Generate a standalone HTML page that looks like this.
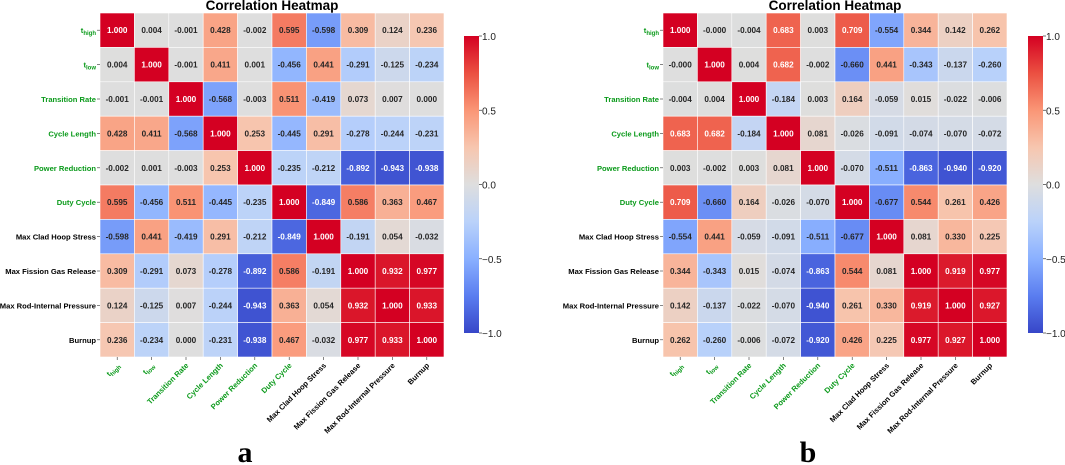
<!DOCTYPE html>
<html><head><meta charset="utf-8"><style>
body{margin:0;background:#fff;}
svg{display:block;font-family:"Liberation Sans",Arial,sans-serif;}
</style></head><body>
<svg id="chart" width="1065" height="465" viewBox="0 0 1065 465"></svg>
<script>
const labels = ["t_high","t_low","Transition Rate","Cycle Length","Power Reduction","Duty Cycle","Max Clad Hoop Stress","Max Fission Gas Release","Max Rod-Internal Pressure","Burnup"];
const greenCount = 6;
const valuesA = [
[1.000,0.004,-0.001,0.428,-0.002,0.595,-0.598,0.309,0.124,0.236],
[0.004,1.000,-0.001,0.411,0.001,-0.456,0.441,-0.291,-0.125,-0.234],
[-0.001,-0.001,1.000,-0.568,-0.003,0.511,-0.419,0.073,0.007,0.000],
[0.428,0.411,-0.568,1.000,0.253,-0.445,0.291,-0.278,-0.244,-0.231],
[-0.002,0.001,-0.003,0.253,1.000,-0.235,-0.212,-0.892,-0.943,-0.938],
[0.595,-0.456,0.511,-0.445,-0.235,1.000,-0.849,0.586,0.363,0.467],
[-0.598,0.441,-0.419,0.291,-0.212,-0.849,1.000,-0.191,0.054,-0.032],
[0.309,-0.291,0.073,-0.278,-0.892,0.586,-0.191,1.000,0.932,0.977],
[0.124,-0.125,0.007,-0.244,-0.943,0.363,0.054,0.932,1.000,0.933],
[0.236,-0.234,0.000,-0.231,-0.938,0.467,-0.032,0.977,0.933,1.000]];
const valuesB = [
[1.000,-0.000,-0.004,0.683,0.003,0.709,-0.554,0.344,0.142,0.262],
[-0.000,1.000,0.004,0.682,-0.002,-0.660,0.441,-0.343,-0.137,-0.260],
[-0.004,0.004,1.000,-0.184,0.003,0.164,-0.059,0.015,-0.022,-0.006],
[0.683,0.682,-0.184,1.000,0.081,-0.026,-0.091,-0.074,-0.070,-0.072],
[0.003,-0.002,0.003,0.081,1.000,-0.070,-0.511,-0.863,-0.940,-0.920],
[0.709,-0.660,0.164,-0.026,-0.070,1.000,-0.677,0.544,0.261,0.426],
[-0.554,0.441,-0.059,-0.091,-0.511,-0.677,1.000,0.081,0.330,0.225],
[0.344,-0.343,0.015,-0.074,-0.863,0.544,0.081,1.000,0.919,0.977],
[0.142,-0.137,-0.022,-0.070,-0.940,0.261,0.330,0.919,1.000,0.927],
[0.262,-0.260,-0.006,-0.072,-0.920,0.426,0.225,0.977,0.927,1.000]];
const colorTicks = [1.0,0.5,0.0,-0.5,-1.0];
const colorTickLabels = ["1.0","0.5","0.0","\u22120.5","\u22121.0"];

const NS="http://www.w3.org/2000/svg";
const svg=document.getElementById('chart');
function mk(tag,attrs,parent){const e=document.createElementNS(NS,tag);for(const k in attrs)e.setAttribute(k,attrs[k]);(parent||svg).appendChild(e);return e;}
const stops=[[0,[55,70,200]],[0.125,[90,125,240]],[0.25,[138,176,255]],[0.375,[186,210,250]],[0.5,[222,222,222]],[0.625,[247,198,175]],[0.75,[250,150,118]],[0.875,[235,80,65]],[1,[212,0,34]]];
function color(v){let t=(v+1)/2;t=Math.max(0,Math.min(1,t));for(let i=1;i<stops.length;i++){if(t<=stops[i][0]){const a=stops[i-1],b=stops[i];const f=(t-a[0])/(b[0]-a[0]);const c=a[1].map((x,j)=>Math.round(x+(b[1][j]-x)*f));return `rgb(${c[0]},${c[1]},${c[2]})`;}}return 'rgb(212,0,34)';}
function lum(v){const m=color(v).match(/\d+/g).map(Number);return (0.299*m[0]+0.587*m[1]+0.114*m[2])/255;}
function fmt(v){let s=Math.abs(v).toFixed(3);return (v<0||Object.is(v,-0)?'-':'')+s;}
function addLabel(g,txt,x,y,anchor,rot,fill){
  const t=mk('text',{x:x,y:y,'text-anchor':anchor,'font-size':7.6,'font-weight':'bold',fill:fill},g);
  if(rot)t.setAttribute('transform',`rotate(-45 ${x} ${y})`);
  if(txt.startsWith('t_')){t.textContent='t';const s=mk('tspan',{'font-size':6,dy:2},t);s.textContent=txt.slice(2);}
  else t.textContent=txt;
  return t;
}
function panel(vals,gx,name,letter,cbx){
  const g=mk('g',{});
  
  
  const W=344,n=labels.length,cw=W/n,gy=13;
  const xs=i=>gx+i*cw, ys=i=>gy+i*cw;
  const title=mk('text',{x:gx+W/2,y:10,'text-anchor':'middle','font-size':13.5,'font-weight':'bold',fill:'#000'},g);
  title.textContent='Correlation Heatmap';
  
  
  for(let r=0;r<n;r++)for(let c=0;c<n;c++){
    const v=vals[r][c];
    const rect=mk('rect',{x:xs(c),y:ys(r),width:cw,height:cw,fill:color(v),stroke:'#fff','stroke-width':0.6},g);
    
    
    const t=mk('text',{x:xs(c)+cw/2,y:ys(r)+cw/2+3,'text-anchor':'middle','font-size':8.2,'font-weight':'bold',fill:lum(v)<0.55?'#fff':'#262626'},g);
    t.textContent=fmt(v);
    
    
  }
  for(let i=0;i<n;i++){
    const fill=i<greenCount?'#0a9a1a':'#000';
    mk('line',{x1:gx-3,x2:gx,y1:ys(i)+cw/2,y2:ys(i)+cw/2,stroke:'#333','stroke-width':0.6},g);
    const yl=addLabel(g,labels[i],gx-4,ys(i)+cw/2+3,'end',false,fill);
    
    
    mk('line',{x1:xs(i)+cw/2,x2:xs(i)+cw/2,y1:gy+W,y2:gy+W+3,stroke:'#333','stroke-width':0.6},g);
    const xl=addLabel(g,labels[i],xs(i)+cw/2+3,gy+W+9,'end',true,fill);
    
    
  }
  const cy0=36,cy1=333,cwid=15;
  const gid='grad'+letter;
  const defs=mk('defs',{},g);
  const lg=mk('linearGradient',{id:gid,x1:0,y1:1,x2:0,y2:0},defs);
  for(const s of stops){mk('stop',{offset:s[0],'stop-color':`rgb(${s[1].join(',')})`},lg);}
  const cb=mk('rect',{x:cbx,y:cy0,width:cwid,height:cy1-cy0,fill:`url(#${gid})`},g);
  
  
  colorTicks.forEach((v,i)=>{
    const y=cy0+(1-v)/2*(cy1-cy0);
    mk('line',{x1:cbx+cwid,x2:cbx+cwid+3,y1:y,y2:y,stroke:'#333','stroke-width':0.7},g);
    const t=mk('text',{x:cbx+cwid+3,y:y+4,'font-size':10,fill:'#222'},g);
    t.textContent=colorTickLabels[i];
    
    
  });
  const L=mk('text',{x:gx+W/2-27,y:462,'text-anchor':'middle','font-size':30,'font-weight':'bold','font-family':'"Liberation Serif",serif',fill:'#000'},g);
  L.textContent=letter;
  
  
}
panel(valuesA,100,'heatmap-panel-a','a',464);
panel(valuesB,663,'heatmap-panel-b','b',1028);
</script>
</body></html>
